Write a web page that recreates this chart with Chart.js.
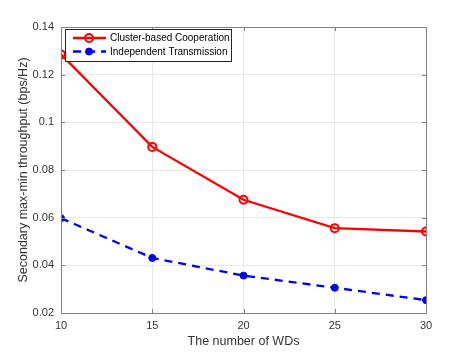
<!DOCTYPE html>
<html>
<head>
<meta charset="utf-8">
<script src="https://cdn.jsdelivr.net/npm/chart.js@4/dist/chart.umd.min.js"></script>
<style>
  html, body { margin: 0; padding: 0; background: #fff; }
  #wrap { width: 471px; height: 353px; }
</style>
</head>
<body>
<div id="wrap"><canvas id="c" width="471" height="353"></canvas></div>
<script>
// values
const numWDs = [10, 15, 20, 25, 30];
const clusterCoop = [0.1285, 0.0897, 0.0675, 0.0556, 0.0542];
const independentTx = [0.0598, 0.0431, 0.0357, 0.0306, 0.0254];
const yTicks = [0.02, 0.04, 0.06, 0.08, 0.1, 0.12, 0.14];

const textColor = '#333333';
const axisColor = '#808080';
const font = 'Liberation Sans, Arial, Helvetica, sans-serif';

// box, inward ticks and the in-plot legend, MATLAB style
const matlabAxes = {
  id: 'matlabAxes',
  afterDatasetsDraw(chart) {
    const { ctx, chartArea: a, scales } = chart;
    ctx.save();
    ctx.strokeStyle = axisColor;
    ctx.lineWidth = 1;
    ctx.strokeRect(Math.round(a.left) + 0.5, Math.round(a.top) + 0.5,
      Math.round(a.right - a.left), Math.round(a.bottom - a.top));
    ctx.beginPath();
    numWDs.forEach(v => {
      const x = Math.round(scales.x.getPixelForValue(v)) + 0.5;
      ctx.moveTo(x, a.bottom); ctx.lineTo(x, a.bottom - 4);
      ctx.moveTo(x, a.top); ctx.lineTo(x, a.top + 4);
    });
    yTicks.forEach(v => {
      const y = Math.round(scales.y.getPixelForValue(v)) + 0.5;
      ctx.moveTo(a.left, y); ctx.lineTo(a.left + 4, y);
      ctx.moveTo(a.right, y); ctx.lineTo(a.right - 4, y);
    });
    ctx.stroke();

    // legend
    const lx = a.left + 4, ly = a.top + 2, lw = 166, lh = 32;
    ctx.fillStyle = '#fff';
    ctx.fillRect(lx, ly, lw, lh);
    ctx.strokeStyle = '#262626';
    ctx.strokeRect(Math.round(lx) + 0.5, Math.round(ly) + 0.5, lw, lh);
    chart.data.datasets.forEach((ds, i) => {
      const y = ly + 9 + i * 13.5;
      ctx.strokeStyle = ds.borderColor;
      ctx.lineWidth = ds.borderWidth;
      ctx.setLineDash(ds.borderDash || []);
      ctx.beginPath();
      ctx.moveTo(lx + 8, y); ctx.lineTo(lx + 41, y);
      ctx.stroke();
      ctx.setLineDash([]);
      ctx.beginPath();
      ctx.arc(lx + 24, y, ds.pointRadius, 0, Math.PI * 2);
      ctx.fillStyle = ds.pointBackgroundColor;
      ctx.fill();
      ctx.lineWidth = ds.pointBorderWidth;
      ctx.strokeStyle = ds.pointBorderColor;
      ctx.stroke();
      ctx.fillStyle = '#000';
      ctx.font = '10px ' + font;
      ctx.textBaseline = 'middle';
      ctx.fillText(ds.label, lx + 45, y + 0.5);
    });
    ctx.restore();
  }
};

new Chart(document.getElementById('c'), {
  type: 'line',
  data: {
    datasets: [
      {
        label: 'Cluster-based Cooperation',
        data: numWDs.map((x, i) => ({ x, y: clusterCoop[i] })),
        borderColor: '#ff0000',
        borderWidth: 2.3,
        pointRadius: 4,
        pointBorderWidth: 2,
        pointBorderColor: '#ff0000',
        pointBackgroundColor: 'rgba(255,255,255,0)',
        tension: 0
      },
      {
        label: 'Independent Transmission',
        data: numWDs.map((x, i) => ({ x, y: independentTx[i] })),
        borderColor: '#0000ff',
        borderWidth: 2.3,
        borderDash: [8, 6],
        pointRadius: 3.5,
        pointBorderWidth: 1,
        pointBorderColor: '#0000ff',
        pointBackgroundColor: '#0000ff',
        tension: 0
      }
    ]
  },
  options: {
    responsive: false,
    animation: false,
    layout: { padding: { top: 27, right: 45, bottom: 0, left: 0 } },
    plugins: { legend: { display: false }, tooltip: { enabled: false } },
    scales: {
      x: {
        type: 'linear',
        min: 10, max: 30,
        afterFit: s => { s.height = 40; },
        afterBuildTicks: s => { s.ticks = numWDs.map(v => ({ value: v })); },
        grid: { color: '#e8e8e8', drawTicks: false },
        border: { display: false },
        ticks: { color: textColor, font: { family: font, size: 11 }, padding: 6 },
        title: {
          display: true, text: 'The number of WDs', color: textColor,
          font: { family: font, size: 12.5 }, padding: { top: 2, bottom: 4 }
        }
      },
      y: {
        min: 0.02, max: 0.14,
        afterFit: s => { s.width = 61; },
        afterBuildTicks: s => { s.ticks = yTicks.map(v => ({ value: v })); },
        grid: { color: '#e8e8e8', drawTicks: false },
        border: { display: false },
        ticks: {
          color: textColor, font: { family: font, size: 11 }, padding: 7,
          callback: v => String(+v.toFixed(2))
        },
        title: {
          display: true, text: 'Secondary max-min throughput (bps/Hz)', color: textColor,
          font: { family: font, size: 12.5 }, padding: { top: 16, bottom: 0 }
        }
      }
    }
  },
  plugins: [matlabAxes]
});
</script>
</body>
</html>
